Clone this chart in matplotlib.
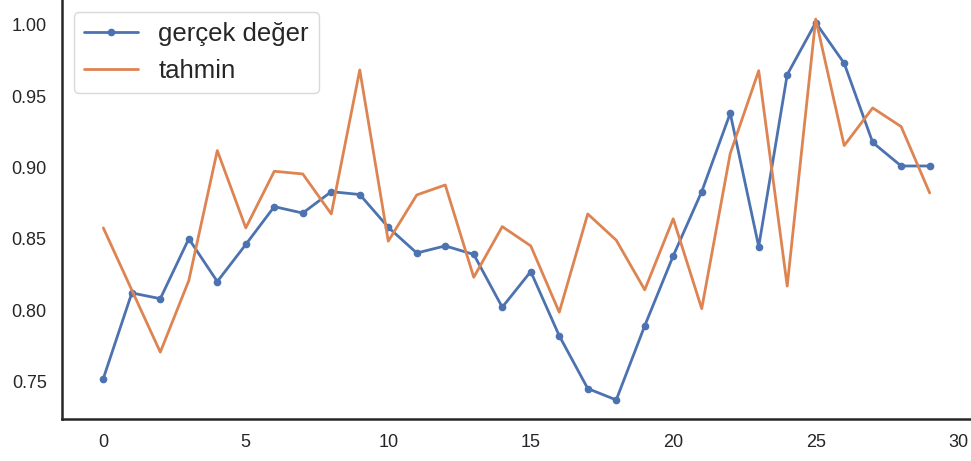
import matplotlib
matplotlib.use("Agg")
import matplotlib.pyplot as plt
import seaborn as sns

sns.set_theme(style="white")
plt.rcParams["font.family"] = ["Liberation Sans", "DejaVu Sans"]

# Observed series and model predictions for 30 steps
steps = list(range(30))
gercek = [0.752, 0.812, 0.808, 0.850, 0.820, 0.846, 0.8725, 0.868, 0.883, 0.881,
          0.858, 0.840, 0.845, 0.839, 0.802, 0.827, 0.782, 0.745, 0.737, 0.789,
          0.838, 0.883, 0.938, 0.8445, 0.965, 1.0015, 0.973, 0.9175, 0.901, 0.901]
tahmin = [0.8576, 0.814, 0.7705, 0.8207, 0.9118, 0.8576, 0.8973, 0.8954, 0.8674, 0.9683,
          0.8483, 0.8807, 0.8877, 0.823, 0.8585, 0.845, 0.7985, 0.8674, 0.849, 0.8142,
          0.8640, 0.801, 0.9097, 0.9678, 0.8168, 1.0040, 0.9153, 0.9417, 0.9286, 0.8821]

fig = plt.figure(figsize=(9.71, 4.61), dpi=100)
ax = fig.add_axes([62 / 971, 42 / 461, 1 - 62 / 971, 1 - 42 / 461])

ax.plot(steps, gercek, color="#4C72B0", lw=2.0, marker="o", markersize=4.5,
        label="gerçek değer")
ax.plot(steps, tahmin, color="#DD8452", lw=2.0, label="tahmin")

ax.set_xticks([0, 5, 10, 15, 20, 25, 30])
ax.set_yticks([0.75, 0.80, 0.85, 0.90, 0.95, 1.00])
ax.yaxis.set_major_formatter(matplotlib.ticker.FormatStrFormatter("%.2f"))
ax.tick_params(axis="both", length=0, pad=11, labelsize=13, labelcolor="#262626")

for side in ("top", "right"):
    ax.spines[side].set_visible(False)
for side in ("left", "bottom"):
    ax.spines[side].set_color("#262626")
    ax.spines[side].set_linewidth(1.8)

leg = ax.legend(loc="upper left", fontsize=18.5, frameon=True, handlelength=2.1,
                borderaxespad=0.45)
leg.get_frame().set_edgecolor("#d0d0d0")

fig.savefig("out.png", dpi=100)
